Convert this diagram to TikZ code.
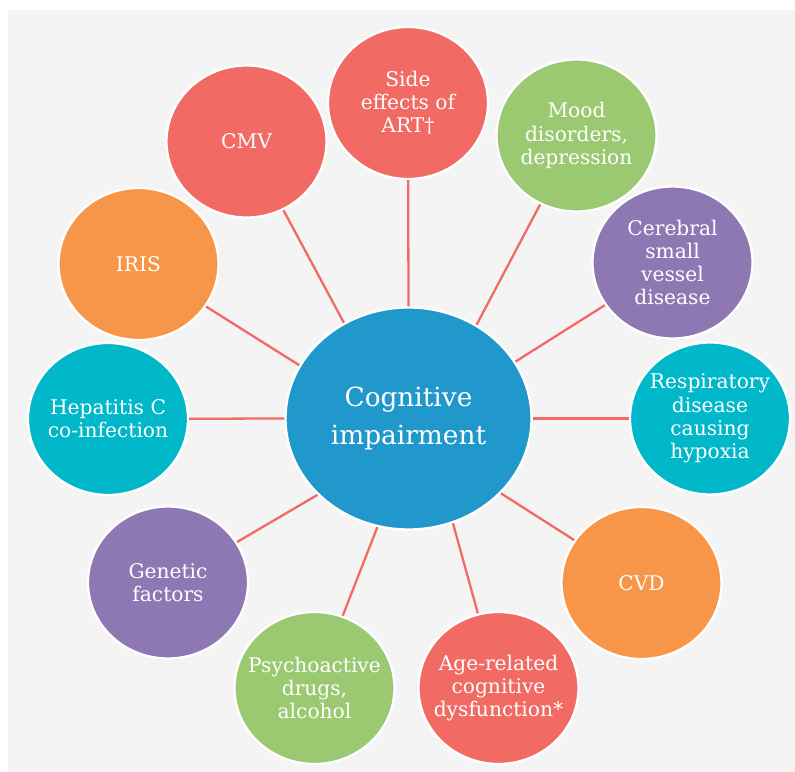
\documentclass[tikz,border=0pt]{standalone}
\usepackage{fontspec}
\setmainfont{DejaVu Serif}
\usepackage{tikz}
\usetikzlibrary{shapes}
\definecolor{bggray}{HTML}{F4F4F4}
\definecolor{cired}{HTML}{F16A63}
\definecolor{ciorange}{HTML}{F79648}
\definecolor{cigreen}{HTML}{9BC971}
\definecolor{cipurple}{HTML}{8E78B4}
\definecolor{citeal}{HTML}{00B8CA}
\definecolor{ciblue}{HTML}{2198CC}
\tikzset{
  % negative inner sep so that long lines do not blow the ellipse up
  cause/.style={ellipse,draw=white,line width=1.3pt,minimum width=3.2cm,
    minimum height=3.04cm,inner sep=-0.4cm,align=center,text=white,
    font=\fontsize{11.5}{13.2}\selectfont},
  spoke/.style={cired,line width=1.3pt}
}
\newcommand{\causenode}{\node[cause]}

\begin{document}
\begin{tikzpicture}
        \useasboundingbox (0,0) rectangle (15.9,15.44);
        \fill[bggray] (0.16,0) rectangle (15.9,15.24);
        % centre
        \node[cause,fill=ciblue,minimum width=4.92cm,minimum height=4.44cm,
          font=\fontsize{15}{22}\selectfont] (ci) at (8.17,7.07)
          {Cognitive\\impairment};
        % causes, clockwise from the top
        \causenode[fill=cired] (art) at (8.16,13.38) {Side\\effects of\\ART\dag};
        \causenode[fill=cigreen] (mood) at (11.53,12.73) {Mood\\disorders,\\depression};
        \causenode[fill=cipurple] (cereb) at (13.45,10.19) {Cerebral\\small\\vessel\\disease};
        \causenode[fill=citeal] (resp) at (14.2,7.07) {Respiratory\\disease\\causing\\hypoxia};
        \causenode[fill=ciorange] (cvd) at (12.83,3.78) {CVD};
        \causenode[fill=cired] (age) at (9.97,1.68) {Age-related\\cognitive\\dysfunction*};
        \causenode[fill=cigreen] (psy) at (6.29,1.68) {Psychoactive\\drugs,\\alcohol};
        \causenode[fill=cipurple] (gen) at (3.36,3.79) {Genetic\\factors};
        \causenode[fill=citeal] (hepc) at (2.16,7.06) {Hepatitis C\\co-infection};
        \causenode[fill=ciorange] (iris) at (2.77,10.16) {IRIS};
        \causenode[fill=cired] (cmv) at (4.93,12.61) {CMV};
        % spokes
        \draw[spoke] (ci.90) -- (art);
        \draw[spoke] (ci.54.4) -- (mood);
        \draw[spoke] (ci.28.3) -- (cereb);
        \draw[spoke] (ci.0) -- (resp);
        \draw[spoke] (ci.-39.4) -- (cvd);
        \draw[spoke] (ci.-67.5) -- (age);
        \draw[spoke] (ci.-106.7) -- (psy);
        \draw[spoke] (ci.-140.1) -- (gen);
        \draw[spoke] (ci.180) -- (hepc);
        \draw[spoke] (ci.154.4) -- (iris);
        \draw[spoke] (ci.124.9) -- (cmv);
      \end{tikzpicture}
\end{document}
